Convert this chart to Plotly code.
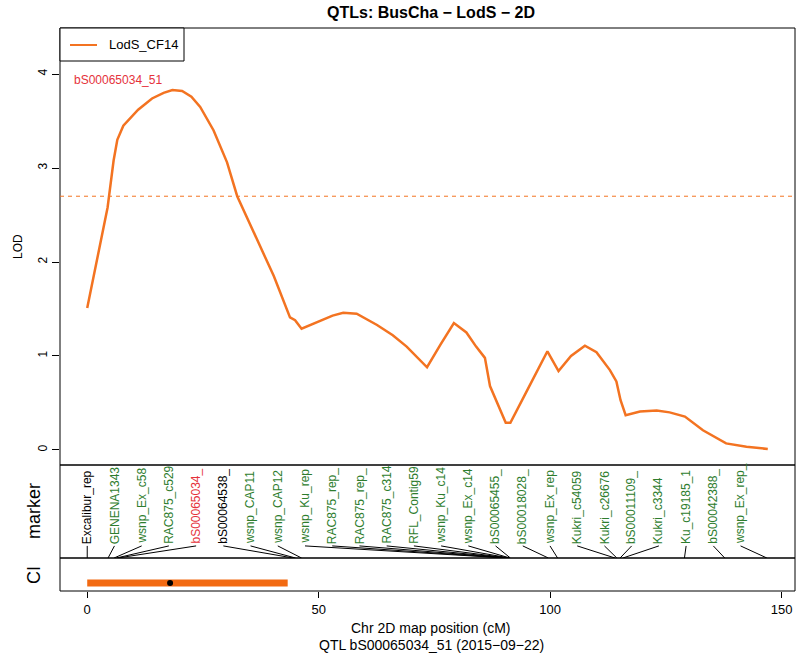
import plotly.graph_objects as go
import numpy as np

# ---------------- data ----------------
pos_cM = [0, 4.4, 5.7, 6.5, 7.8, 11.0, 14.0, 16.5, 18.4, 20.5, 22.5, 24.4, 27.3,
          30.2, 32.4, 36.0, 40.3, 43.8, 44.9, 46.3, 50.3, 53.0, 55.3, 58.2, 62.6,
          66.0, 69.0, 73.4, 76.3, 79.2, 81.9, 84.0, 85.9, 87.0, 90.4, 91.4, 95.5,
          99.4, 101.8, 104.5, 107.5, 110.0, 112.9, 114.3, 115.2, 116.3, 119.4,
          123.0, 125.8, 129.1, 133.0, 138.0, 142.4, 147.0]
lod = [1.51, 2.58, 3.08, 3.30, 3.45, 3.62, 3.74, 3.80, 3.83, 3.82, 3.76, 3.65, 3.40,
       3.06, 2.70, 2.31, 1.85, 1.41, 1.38, 1.29, 1.37, 1.43, 1.46, 1.45, 1.33,
       1.22, 1.10, 0.88, 1.12, 1.35, 1.25, 1.10, 0.98, 0.68, 0.29, 0.29, 0.68,
       1.05, 0.84, 1.00, 1.11, 1.04, 0.85, 0.73, 0.53, 0.37, 0.41,
       0.42, 0.40, 0.355, 0.21, 0.07, 0.035, 0.01]
threshold = 2.70
trait = "LodS_CF14"

marker_names = ["Excalibur_rep", "GENENA1343", "wsnp_Ex_c58", "RAC875_c529",
                "bS00065034_", "bS00064538_", "wsnp_CAP11", "wsnp_CAP12",
                "wsnp_Ku_rep", "RAC875_rep_", "RAC875_rep_", "RAC875_c314",
                "RFL_Contig59", "wsnp_Ku_c14", "wsnp_Ex_c14", "bS00065455_",
                "bS00018028_", "wsnp_Ex_rep", "Kukri_c54059", "Kukri_c26676",
                "bS00011109_", "Kukri_c3344", "Ku_c19185_1", "bS00042388_",
                "wsnp_Ex_rep_"]
marker_cM = [0, 4.5, 5.8, 6.3, 6.6, 44.5, 45.0, 46.3, 90.4, 90.6, 90.8, 91.0,
             91.1, 91.2, 91.3, 91.4, 99.6, 101.6, 114.0, 114.4, 115.1, 115.7,
             129.0, 137.7, 146.8]
marker_group = ["other", "linked", "linked", "linked", "peak", "other", "linked",
                "linked", "linked", "linked", "linked", "linked", "linked",
                "linked", "linked", "linked", "linked", "linked", "linked",
                "linked", "linked", "linked", "linked", "linked", "linked"]

peak_marker = "bS00065034_51"
peak_marker_cM = 6.6
peak_label_lod = 3.94
qtl_peak_cM = 17.9
ci_low, ci_high = 0.0, 43.3

# ---------------- style ----------------
FONT = "Liberation Sans, Arial, sans-serif"
ORANGE = "#f37321"
GREEN = "#2e7d2e"
RED = "#e5323b"
group_color = {"other": "black", "linked": GREEN, "peak": RED}

xmax = max(pos_cM)
xr = [-0.04 * xmax, xmax * 1.04]
n = len(marker_names)
label_x = [i * xmax / n for i in range(n)]
label_base = 0.13

# plot area spans pixel x 60..795, y 28..591 (page body margin removed below)
ML, MR, MT, MB = 60, 1, 28, 64
plot_h = 655 - MT - MB
def py(p):  # pixel y -> paper y
    return (655 - MB - p) / plot_h
def px(p):  # pixel x -> paper x
    return (p - ML) / (796 - ML - MR)

d_lod = py(465)
d_ci = py(558)

fig = go.Figure()

# LOD curve
fig.add_trace(go.Scatter(x=pos_cM, y=lod, mode="lines", name=trait,
                         line=dict(color=ORANGE, width=2.5), xaxis="x", yaxis="y",
                         showlegend=False, hoverinfo="x+y"))

# marker connecting lines
lx, ly = [], []
for xl, xm in zip(label_x, marker_cM):
    lx += [xl, xm, None]
    ly += [label_base, 0, None]
fig.add_trace(go.Scatter(x=lx, y=ly, mode="lines", line=dict(color="black", width=1),
                         xaxis="x", yaxis="y2", showlegend=False, hoverinfo="skip"))

# CI bar and peak point
fig.add_trace(go.Scatter(x=[ci_low, ci_high], y=[0.24, 0.24], mode="lines",
                         line=dict(color="#f26a12", width=7), xaxis="x", yaxis="y3",
                         showlegend=False, hoverinfo="skip"))
fig.add_trace(go.Scatter(x=[qtl_peak_cM], y=[0.24], mode="markers",
                         marker=dict(color="black", size=6), xaxis="x", yaxis="y3",
                         showlegend=False, hoverinfo="skip"))

annotations = []
for name, xl, g in zip(marker_names, label_x, marker_group):
    annotations.append(dict(x=xl, y=label_base, xref="x", yref="y2", text=name,
                            textangle=-90, showarrow=False, xanchor="center",
                            yanchor="bottom", font=dict(size=12, color=group_color[g],
                                                        family=FONT)))
annotations.append(dict(x=peak_marker_cM, y=peak_label_lod, xref="x", yref="y",
                        text=peak_marker, showarrow=False, xanchor="center",
                        yanchor="middle", font=dict(size=12, color=RED, family=FONT)))
# legend (manual)
annotations.append(dict(x=px(107), y=py(45), xref="paper", yref="paper", text=trait,
                        showarrow=False, xanchor="left", yanchor="middle",
                        font=dict(size=13, color="black", family=FONT)))
# panel labels
annotations.append(dict(x=px(34), y=py(511), xref="paper", yref="paper", text="marker",
                        textangle=-90, showarrow=False, xanchor="center", yanchor="middle",
                        font=dict(size=18, color="black", family=FONT)))
annotations.append(dict(x=px(34), y=py(575), xref="paper", yref="paper", text="CI",
                        textangle=-90, showarrow=False, xanchor="center", yanchor="middle",
                        font=dict(size=18, color="black", family=FONT)))
annotations.append(dict(x=px(18), y=py(247), xref="paper", yref="paper", text="LOD",
                        textangle=-90, showarrow=False, xanchor="center", yanchor="middle",
                        font=dict(size=12, color="black", family=FONT)))
annotations.append(dict(x=px(431), y=py(628), xref="paper", yref="paper",
                        text="Chr 2D map position (cM)", showarrow=False,
                        xanchor="center", yanchor="middle",
                        font=dict(size=14, color="black", family=FONT)))
annotations.append(dict(x=px(431), y=py(645), xref="paper", yref="paper",
                        text="QTL bS00065034_51 (2015\u221209\u221222)", showarrow=False,
                        xanchor="center", yanchor="middle",
                        font=dict(size=14, color="black", family=FONT)))

shapes = [
    dict(type="rect", xref="x domain", yref="y domain", x0=0, x1=1, y0=0, y1=1,
         line=dict(color="black", width=1)),
    dict(type="rect", xref="x domain", yref="y2 domain", x0=0, x1=1, y0=0, y1=1,
         line=dict(color="black", width=1)),
    dict(type="rect", xref="x domain", yref="y3 domain", x0=0, x1=1, y0=0, y1=1,
         line=dict(color="black", width=1)),
    dict(type="line", xref="x domain", yref="y", x0=0, x1=1, y0=threshold, y1=threshold,
         line=dict(color=ORANGE, width=1, dash="4px,4px")),
    dict(type="rect", xref="paper", yref="paper", x0=0, x1=px(184), y0=py(61), y1=1,
         line=dict(color="black", width=1), fillcolor="white"),
    dict(type="line", xref="paper", yref="paper", x0=px(70), x1=px(97), y0=py(45), y1=py(45),
         line=dict(color=ORANGE, width=2)),
]

fig.update_layout(
    width=796, height=655,
    margin=dict(l=ML, r=MR, t=MT, b=MB),
    paper_bgcolor="white", plot_bgcolor="white",
    font=dict(family=FONT, color="black", size=12),
    title=dict(text="<b>QTLs: BusCha \u2212 LodS \u2212 2D</b>", x=px(431), xref="paper",
               xanchor="center", y=1 - 12 / 655, yref="container", yanchor="middle",
               font=dict(size=16, family=FONT, color="black")),
    xaxis=dict(range=xr, anchor="y3", tickvals=[0, 50, 100, 150], ticks="outside",
               ticklen=6, tickcolor="black", showgrid=False, zeroline=False,
               showline=False, tickfont=dict(size=13)),
    yaxis=dict(domain=[d_lod, 1], range=[-0.16, 4.49], tickvals=[0, 1, 2, 3, 4],
               ticks="outside", ticklen=7, tickcolor="black", tickangle=-90,
               showgrid=False, zeroline=False, showline=False, tickfont=dict(size=12)),
    yaxis2=dict(domain=[d_ci, d_lod], range=[0, 1], showticklabels=False, ticks="",
                showgrid=False, zeroline=False, showline=False),
    yaxis3=dict(domain=[0, d_ci], range=[0, 1], showticklabels=False, ticks="",
                showgrid=False, zeroline=False, showline=False),
    shapes=shapes,
    annotations=annotations,
    showlegend=False,
)

fig.write_html("out.html", config={"displayModeBar": False},
               post_script="document.body.style.margin='0';document.body.style.padding='0';")
